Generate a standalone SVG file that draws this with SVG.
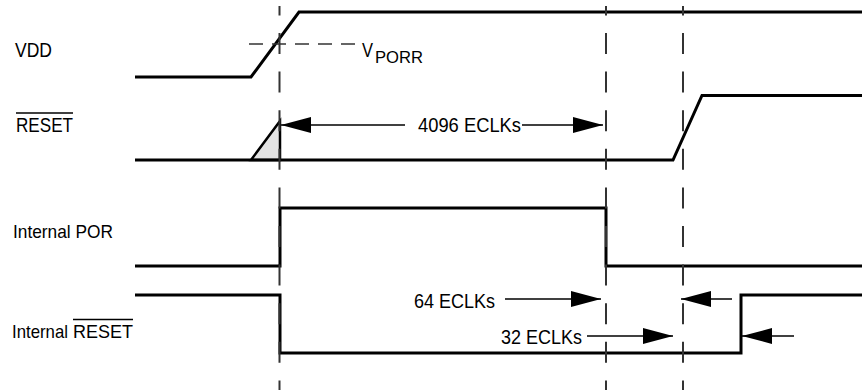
<svg xmlns="http://www.w3.org/2000/svg" width="862" height="390" viewBox="0 0 862 390">
<style>
  .sig { fill: none; stroke: #000; stroke-width: 3; stroke-linejoin: miter; }
  .vdash { fill: none; stroke: #333; stroke-width: 2; stroke-dasharray: 21 17.6; stroke-dashoffset: 11.6; }
  .hdash { fill: none; stroke: #333; stroke-width: 1.5; stroke-dasharray: 14 9; }
  .arr { fill: none; stroke: #000; stroke-width: 1.5; marker-end: url(#ah); }
  .ovl { stroke: #000; stroke-width: 1.5; }
  text { font-family: "Liberation Sans", Arial, sans-serif; fill: #000; }
  .lbl { font-size: 20px; }
  .lbs { font-size: 19px; }
</style>
<defs>
  <marker id="ah" markerUnits="userSpaceOnUse" markerWidth="30" markerHeight="16" refX="30" refY="8" orient="auto" viewBox="0 0 30 16">
    <path d="M0,0 L30,8 L0,16 Z" fill="#000"/>
  </marker>
</defs>
<rect width="862" height="390" fill="#fff"/>

<g id="vdd">
  <text x="15" y="57" font-size="19.5" textLength="37" lengthAdjust="spacingAndGlyphs">VDD</text>
  <polyline class="sig" points="135,77 251,77 299,12 862,12"/>
  <line class="hdash" x1="249" y1="44" x2="357" y2="44"/>
  <text x="362" y="57" font-size="20" textLength="11" lengthAdjust="spacingAndGlyphs">V</text>
  <text x="375" y="63" font-size="17" textLength="48" lengthAdjust="spacingAndGlyphs">PORR</text>
</g>

<g id="reset">
  <text class="lbl" x="16" y="132" textLength="57" lengthAdjust="spacingAndGlyphs">RESET</text>
  <line class="ovl" x1="16" y1="113" x2="73" y2="113"/>
  <polygon points="251,160 280,121 280,160" fill="#e3e3e3" stroke="#000" stroke-width="2.5" stroke-linejoin="miter"/>
  <polyline class="sig" points="135,160 673,160 702,95.5 862,95.5"/>
</g>

<g id="internal-por">
  <text class="lbs" x="13" y="238" textLength="100" lengthAdjust="spacingAndGlyphs">Internal POR</text>
  <polyline class="sig" points="135,266 280,266 280,208 606,208 606,266 862,266"/>
</g>

<g id="internal-reset">
  <text class="lbs" x="12" y="338" textLength="56" lengthAdjust="spacingAndGlyphs">Internal</text>
  <text class="lbs" x="73" y="338" textLength="60" lengthAdjust="spacingAndGlyphs">RESET</text>
  <line class="ovl" x1="73" y1="319.5" x2="133" y2="319.5"/>
  <polyline class="sig" points="135,295 280,295 280,353 741,353 741,295 862,295"/>
</g>

<g id="connectors">
  <line class="vdash" x1="279.5" y1="6" x2="279.5" y2="390"/>
  <line class="vdash" x1="606" y1="6" x2="606" y2="390"/>
  <line class="vdash" x1="683" y1="6" x2="683" y2="390"/>
  <line class="arr" x1="405" y1="125" x2="281" y2="125"/>
  <line class="arr" x1="522" y1="125" x2="603" y2="125"/>
  <line class="arr" x1="505" y1="299" x2="601" y2="299"/>
  <line class="arr" x1="732" y1="299" x2="681" y2="299"/>
  <line class="arr" x1="587" y1="336" x2="673" y2="336"/>
  <line class="arr" x1="794" y1="336" x2="742" y2="336"/>
</g>

<g id="labels">
  <text class="lbl" x="418" y="132" textLength="103" lengthAdjust="spacingAndGlyphs">4096 ECLKs</text>
  <text class="lbl" x="414" y="308" textLength="81" lengthAdjust="spacingAndGlyphs">64 ECLKs</text>
  <text class="lbl" x="501" y="344" textLength="81" lengthAdjust="spacingAndGlyphs">32 ECLKs</text>
</g>
</svg>
